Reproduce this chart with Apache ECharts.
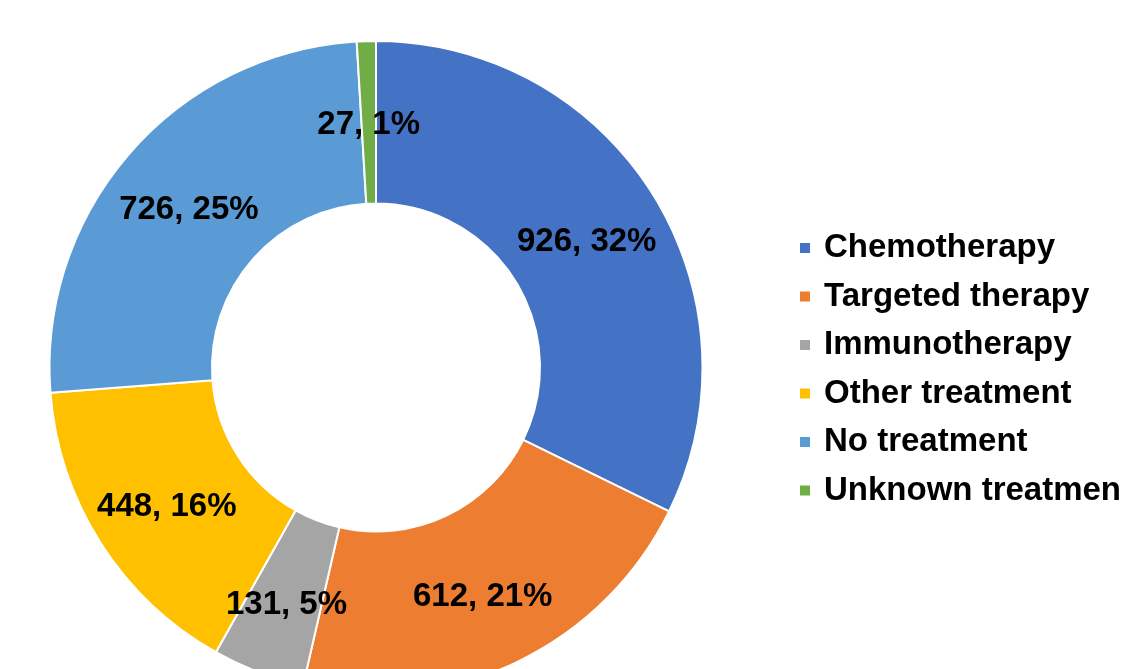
<!DOCTYPE html>
<html>
<head>
<meta charset="utf-8">
<script src="https://cdn.jsdelivr.net/npm/echarts@6/dist/echarts.min.js"></script>
<style>
  html, body { margin: 0; padding: 0; background: #ffffff; }
  #chart { width: 1125px; height: 669px; }
</style>
</head>
<body>
<div id="chart"></div>
<script>
// Treatment categories and patient counts
const categories = ['Chemotherapy', 'Targeted therapy', 'Immunotherapy', 'Other treatment', 'No treatment', 'Unknown treatment'];
const counts = [926, 612, 131, 448, 726, 27];
const colors = ['#4472C4', '#ED7D31', '#A5A5A5', '#FFC000', '#5B9BD5', '#70AD47'];

const chart = echarts.init(document.getElementById('chart'), null, { renderer: 'canvas' });

const fontFamily = '"Liberation Sans", Arial, sans-serif';

chart.setOption({
  animation: false,
  backgroundColor: '#ffffff',
  color: colors,
  legend: {
    orient: 'vertical',
    left: 793,
    top: 226,
    itemWidth: 12,
    itemHeight: 12,
    itemGap: 14.5,
    icon: 'rect',
    data: categories,
    textStyle: {
      fontFamily: fontFamily,
      fontWeight: 'bold',
      fontSize: 33,
      color: '#000000',
      lineHeight: 34,
      width: 299,
      overflow: 'truncate',
      ellipsis: '',
      padding: [0, 0, 0, 8]
    }
  },
  series: [{
    type: 'pie',
    center: [376, 367.5],
    radius: [164, 326.5],
    startAngle: 90,
    clockwise: true,
    avoidLabelOverlap: false,
    percentPrecision: 0,
    itemStyle: { borderColor: '#ffffff', borderWidth: 2 },
    label: {
      show: true,
      position: 'inside',
      formatter: '{v|{c}, {d}%}',
      rich: {
        v: {
          fontFamily: fontFamily,
          fontWeight: 'bold',
          fontSize: 33,
          color: '#000000',
          padding: [11, 0, 0, 0]
        }
      }
    },
    labelLine: { show: false },
    emphasis: { disabled: true },
    data: categories.map((name, i) => ({ name: name, value: counts[i] }))
  }]
});
</script>
</body>
</html>
